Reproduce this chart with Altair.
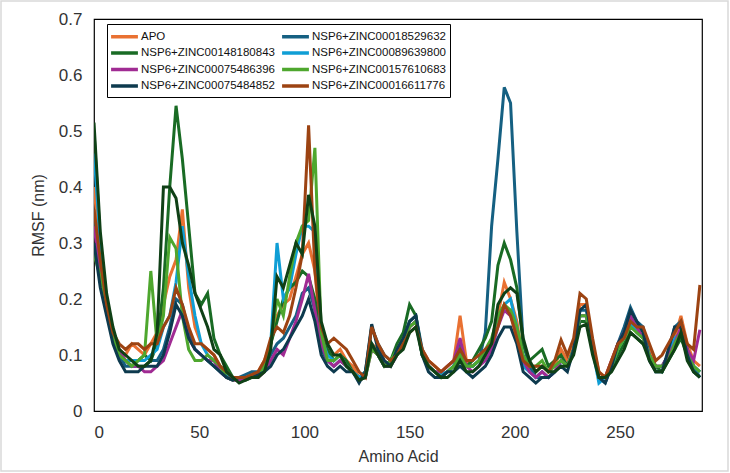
import altair as alt
import pandas as pd

residues = list(range(0, 289, 3))

apo = [0.40, 0.28, 0.19, 0.14, 0.11, 0.10, 0.12, 0.11, 0.10, 0.12,
       0.14, 0.19, 0.24, 0.27, 0.36, 0.22, 0.15, 0.12, 0.11, 0.10,
       0.08, 0.07, 0.06, 0.06, 0.06, 0.06, 0.07, 0.09, 0.12, 0.17,
       0.19, 0.20, 0.24, 0.28, 0.30, 0.25, 0.12, 0.10, 0.10, 0.11,
       0.09, 0.08, 0.06, 0.07, 0.12, 0.11, 0.09, 0.08, 0.10, 0.12,
       0.15, 0.16, 0.11, 0.09, 0.08, 0.07, 0.08, 0.09, 0.17, 0.09,
       0.08, 0.09, 0.10, 0.12, 0.17, 0.23, 0.20, 0.16, 0.09, 0.08,
       0.07, 0.08, 0.07, 0.08, 0.11, 0.09, 0.12, 0.19, 0.19, 0.12,
       0.07, 0.06, 0.09, 0.12, 0.13, 0.16, 0.14, 0.13, 0.11, 0.08,
       0.08, 0.10, 0.13, 0.17, 0.12, 0.09, 0.08]

z018529632 = [0.35, 0.24, 0.18, 0.13, 0.10, 0.08, 0.08, 0.08, 0.08, 0.09,
              0.09, 0.11, 0.15, 0.20, 0.19, 0.14, 0.11, 0.10, 0.09, 0.08,
              0.07, 0.06, 0.055, 0.06, 0.065, 0.07, 0.07, 0.08, 0.10, 0.12,
              0.13, 0.15, 0.17, 0.21, 0.22, 0.18, 0.11, 0.09, 0.08, 0.09,
              0.08, 0.07, 0.055, 0.07, 0.15, 0.12, 0.10, 0.09, 0.11, 0.13,
              0.16, 0.17, 0.11, 0.08, 0.07, 0.065, 0.07, 0.08, 0.12, 0.08,
              0.08, 0.09, 0.14, 0.33, 0.45, 0.578, 0.55, 0.32, 0.12, 0.08,
              0.06, 0.06, 0.06, 0.07, 0.09, 0.08, 0.11, 0.18, 0.18, 0.11,
              0.06, 0.05, 0.08, 0.12, 0.15, 0.185, 0.16, 0.15, 0.10, 0.07,
              0.07, 0.10, 0.15, 0.16, 0.11, 0.08, 0.06]

z148180843 = [0.50, 0.30, 0.20, 0.14, 0.10, 0.09, 0.08, 0.09, 0.10, 0.09,
              0.12, 0.22, 0.40, 0.545, 0.45, 0.33, 0.21, 0.19, 0.21, 0.13,
              0.10, 0.08, 0.06, 0.055, 0.055, 0.06, 0.06, 0.08, 0.12, 0.16,
              0.20, 0.22, 0.23, 0.25, 0.24, 0.20, 0.14, 0.11, 0.09, 0.10,
              0.09, 0.07, 0.06, 0.07, 0.12, 0.10, 0.08, 0.09, 0.12, 0.14,
              0.19, 0.17, 0.10, 0.08, 0.07, 0.06, 0.07, 0.08, 0.10, 0.08,
              0.09, 0.11, 0.13, 0.16, 0.26, 0.30, 0.27, 0.22, 0.12, 0.09,
              0.10, 0.11, 0.08, 0.09, 0.10, 0.08, 0.11, 0.16, 0.16, 0.11,
              0.06, 0.06, 0.08, 0.10, 0.12, 0.14, 0.13, 0.12, 0.10, 0.08,
              0.07, 0.09, 0.11, 0.13, 0.10, 0.08, 0.07]

z089639800 = [0.46, 0.30, 0.19, 0.13, 0.10, 0.09, 0.09, 0.09, 0.09, 0.10,
              0.11, 0.15, 0.17, 0.23, 0.33, 0.24, 0.17, 0.12, 0.10, 0.09,
              0.08, 0.065, 0.06, 0.06, 0.06, 0.06, 0.065, 0.08, 0.12, 0.30,
              0.20, 0.22, 0.28, 0.33, 0.33, 0.32, 0.13, 0.10, 0.09, 0.10,
              0.08, 0.07, 0.06, 0.07, 0.12, 0.10, 0.08, 0.08, 0.10, 0.12,
              0.15, 0.16, 0.10, 0.08, 0.07, 0.065, 0.07, 0.08, 0.11, 0.08,
              0.08, 0.09, 0.10, 0.12, 0.16, 0.19, 0.20, 0.15, 0.08, 0.07,
              0.06, 0.07, 0.06, 0.07, 0.09, 0.08, 0.11, 0.17, 0.17, 0.11,
              0.05, 0.06, 0.08, 0.11, 0.13, 0.16, 0.14, 0.13, 0.10, 0.08,
              0.08, 0.10, 0.13, 0.14, 0.10, 0.08, 0.07]

z075486396 = [0.33, 0.25, 0.20, 0.14, 0.11, 0.09, 0.08, 0.08, 0.07, 0.07,
              0.08, 0.09, 0.12, 0.15, 0.18, 0.13, 0.11, 0.10, 0.09, 0.09,
              0.07, 0.06, 0.055, 0.055, 0.06, 0.06, 0.06, 0.07, 0.09, 0.11,
              0.10, 0.13, 0.16, 0.20, 0.245, 0.18, 0.12, 0.09, 0.08, 0.09,
              0.08, 0.07, 0.055, 0.06, 0.11, 0.10, 0.08, 0.08, 0.10, 0.12,
              0.15, 0.16, 0.10, 0.08, 0.07, 0.07, 0.08, 0.09, 0.13, 0.08,
              0.07, 0.08, 0.09, 0.11, 0.15, 0.18, 0.17, 0.14, 0.09, 0.07,
              0.06, 0.07, 0.06, 0.07, 0.09, 0.08, 0.11, 0.17, 0.17, 0.11,
              0.06, 0.06, 0.09, 0.12, 0.14, 0.17, 0.15, 0.13, 0.10, 0.08,
              0.08, 0.10, 0.12, 0.15, 0.11, 0.09, 0.145]

z157610683 = [0.28, 0.24, 0.18, 0.13, 0.10, 0.09, 0.08, 0.09, 0.10, 0.25,
              0.12, 0.17, 0.31, 0.29, 0.17, 0.11, 0.09, 0.09, 0.10, 0.09,
              0.08, 0.06, 0.055, 0.06, 0.06, 0.06, 0.065, 0.08, 0.12, 0.20,
              0.17, 0.24, 0.30, 0.33, 0.34, 0.47, 0.14, 0.09, 0.09, 0.10,
              0.08, 0.07, 0.055, 0.06, 0.11, 0.10, 0.08, 0.09, 0.11, 0.13,
              0.15, 0.16, 0.10, 0.08, 0.07, 0.06, 0.07, 0.08, 0.10, 0.08,
              0.08, 0.09, 0.11, 0.13, 0.17, 0.19, 0.18, 0.15, 0.10, 0.08,
              0.08, 0.09, 0.07, 0.08, 0.09, 0.08, 0.11, 0.17, 0.17, 0.11,
              0.06, 0.06, 0.08, 0.11, 0.13, 0.15, 0.14, 0.13, 0.10, 0.08,
              0.08, 0.09, 0.12, 0.14, 0.10, 0.08, 0.07]

z075484852 = [0.30, 0.22, 0.17, 0.12, 0.09, 0.07, 0.07, 0.07, 0.08, 0.08,
              0.08, 0.10, 0.14, 0.19, 0.17, 0.13, 0.11, 0.10, 0.09, 0.08,
              0.07, 0.06, 0.055, 0.06, 0.06, 0.06, 0.065, 0.07, 0.08, 0.10,
              0.11, 0.13, 0.15, 0.17, 0.20, 0.16, 0.10, 0.08, 0.07, 0.08,
              0.07, 0.07, 0.05, 0.07, 0.155, 0.11, 0.09, 0.08, 0.11, 0.13,
              0.16, 0.17, 0.10, 0.07, 0.06, 0.06, 0.07, 0.07, 0.08, 0.07,
              0.06, 0.07, 0.08, 0.10, 0.13, 0.15, 0.15, 0.12, 0.07, 0.06,
              0.05, 0.06, 0.06, 0.07, 0.08, 0.07, 0.11, 0.18, 0.19, 0.12,
              0.06, 0.05, 0.08, 0.12, 0.14, 0.18, 0.16, 0.14, 0.09, 0.07,
              0.07, 0.11, 0.15, 0.15, 0.10, 0.07, 0.06]

z016611776 = [0.36, 0.27, 0.19, 0.14, 0.12, 0.11, 0.12, 0.12, 0.11, 0.12,
              0.12, 0.15, 0.17, 0.22, 0.19, 0.15, 0.12, 0.12, 0.11, 0.10,
              0.08, 0.07, 0.06, 0.06, 0.06, 0.065, 0.07, 0.09, 0.13, 0.15,
              0.14, 0.17, 0.22, 0.28, 0.51, 0.25, 0.15, 0.12, 0.13, 0.12,
              0.11, 0.09, 0.07, 0.06, 0.15, 0.12, 0.10, 0.09, 0.10, 0.12,
              0.14, 0.15, 0.11, 0.09, 0.08, 0.07, 0.08, 0.09, 0.11, 0.09,
              0.09, 0.10, 0.11, 0.12, 0.15, 0.19, 0.17, 0.13, 0.09, 0.08,
              0.08, 0.08, 0.07, 0.09, 0.127, 0.10, 0.13, 0.21, 0.20, 0.13,
              0.07, 0.06, 0.09, 0.12, 0.13, 0.16, 0.15, 0.15, 0.12, 0.09,
              0.10, 0.12, 0.14, 0.16, 0.12, 0.11, 0.225]

# ninth series drawn in the reference but without a legend entry
unlisted = [0.515, 0.32, 0.21, 0.15, 0.11, 0.10, 0.09, 0.08, 0.08, 0.09,
            0.14, 0.40, 0.40, 0.38, 0.30, 0.26, 0.21, 0.18, 0.15, 0.11,
            0.10, 0.07, 0.06, 0.05, 0.055, 0.06, 0.06, 0.07, 0.11, 0.24,
            0.22, 0.26, 0.30, 0.28, 0.386, 0.33, 0.16, 0.12, 0.10, 0.10,
            0.08, 0.07, 0.055, 0.06, 0.12, 0.10, 0.08, 0.08, 0.10, 0.11,
            0.14, 0.15, 0.10, 0.08, 0.07, 0.06, 0.06, 0.07, 0.09, 0.07,
            0.07, 0.08, 0.10, 0.12, 0.19, 0.21, 0.22, 0.21, 0.13, 0.09,
            0.07, 0.08, 0.07, 0.07, 0.08, 0.08, 0.10, 0.15, 0.155, 0.10,
            0.06, 0.06, 0.07, 0.09, 0.11, 0.14, 0.13, 0.12, 0.09, 0.07,
            0.07, 0.09, 0.11, 0.14, 0.09, 0.07, 0.06]

# drawing order (later drawn on top)
series_names = ["APO", "NSP6+ZINC00018529632", "NSP6+ZINC00148180843",
                "NSP6+ZINC00089639800", "NSP6+ZINC00075486396",
                "NSP6+ZINC00157610683", "NSP6+ZINC00075484852",
                "NSP6+ZINC00016611776", "NSP6 (unlisted)"]
series_values = [apo, z018529632, z148180843, z089639800, z075486396,
                 z157610683, z075484852, z016611776, unlisted]
series_colors = ["#E97132", "#156082", "#196B24", "#0F9ED5", "#A02B93",
                 "#4EA72E", "#0D3A4E", "#9C4312", "#0F4016"]

# legend order (column by column, as in the reference)
legend_order = ["APO", "NSP6+ZINC00148180843", "NSP6+ZINC00075486396",
                "NSP6+ZINC00075484852", "NSP6+ZINC00018529632",
                "NSP6+ZINC00089639800", "NSP6+ZINC00157610683",
                "NSP6+ZINC00016611776"]
color_of = dict(zip(series_names, series_colors))
domain = legend_order + ["NSP6 (unlisted)"]
color_range = [color_of[n] for n in domain]

x_ticks = [0, 50, 100, 150, 200, 250]
y_ticks = [0, 0.1, 0.2, 0.3, 0.4, 0.5, 0.6, 0.7]

rows = []
for k, (name, vals) in enumerate(zip(series_names, series_values)):
    for r, v in zip(residues, vals):
        rows.append({"Residue": r, "RMSF": v, "Series": name, "order": k})
df = pd.DataFrame(rows)

FONT = "Liberation Sans"

lines = alt.Chart(df).mark_line(strokeWidth=3, clip=True).encode(
    x=alt.X("Residue:Q", scale=alt.Scale(domain=[0, 289], nice=False, zero=False),
            axis=alt.Axis(values=x_ticks, title="Amino Acid", grid=False, ticks=False,
                          domain=False, labelPadding=13, titlePadding=8,
                          labelFontSize=17, titleFontSize=16, labelFont=FONT,
                          titleFont=FONT, titleFontWeight="normal",
                          labelColor="#333333", titleColor="#333333")),
    y=alt.Y("RMSF:Q", scale=alt.Scale(domain=[0, 0.7], nice=False),
            axis=alt.Axis(values=y_ticks, format=".1~f", title="RMSF (nm)", grid=False,
                          ticks=False, domain=False, labelPadding=12, titlePadding=12,
                          labelFontSize=17, titleFontSize=16, labelFont=FONT,
                          titleFont=FONT, titleFontWeight="normal",
                          labelColor="#333333", titleColor="#333333")),
    color=alt.Color("Series:N",
                    scale=alt.Scale(domain=domain, range=color_range),
                    legend=alt.Legend(values=legend_order, title=None, orient="none",
                                      legendX=13, legendY=5, columns=2,
                                      symbolType="M-2,0L2,0", symbolStrokeWidth=3.5,
                                      symbolSize=180, symbolOffset=5,
                                      labelFontSize=11.5,
                                      labelFont=FONT, labelColor="#111111",
                                      strokeColor="#000000", fillColor="white",
                                      padding=4, rowPadding=0.5, columnPadding=0,
                                      labelOffset=8, labelLimit=300)),
    order=alt.Order("order:Q"),
    detail="Series:N",
)

frame = alt.Chart(pd.DataFrame({"a": [0]})).mark_rect(
    fill=None, stroke="#D9D9D9", strokeWidth=1.5, clip=False
).encode(x=alt.value(-93), x2=alt.value(634), y=alt.value(-18), y2=alt.value(452))

chart = alt.layer(frame, lines).properties(
    width=608, height=392,
    autosize=alt.AutoSizeParams(type="none"),
    padding={"left": 94, "top": 19, "right": 28, "bottom": 62},
    background="white",
).configure_view(stroke="#000000", strokeWidth=1.2)

chart.save("out.html", embed_options={"renderer": "svg", "actions": False})
